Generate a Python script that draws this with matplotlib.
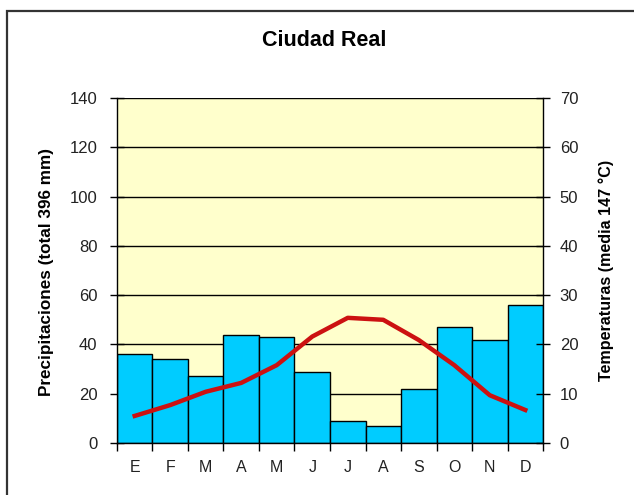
import matplotlib.pyplot as plt
from matplotlib.patches import Rectangle

# Monthly climate data for Ciudad Real
months = ['E', 'F', 'M', 'A', 'M', 'J', 'J', 'A', 'S', 'O', 'N', 'D']
precip_mm = [36, 34, 27, 44, 43, 29, 9, 7, 22, 47, 42, 56]
temp_c = [5.5, 7.7, 10.4, 12.2, 15.8, 21.6, 25.4, 25.0, 20.9, 15.8, 9.7, 6.7]

plt.rcParams['font.family'] = ['Liberation Sans', 'DejaVu Sans']
tick_color = '#222222'

fig = plt.figure(figsize=(6.34, 4.95), dpi=100)
ax = fig.add_axes([0.1845, 0.105, 0.672, 0.697])
ax.set_facecolor('#FFFFCC')

# outer frame of the chart (cut off on the right and bottom)
fig.patches.append(Rectangle((7 / 634, -0.05), 1.1, 1 - 11 / 495 + 0.05,
                             transform=fig.transFigure, fill=False,
                             edgecolor='#333333', linewidth=1.6, zorder=0))

x = list(range(len(months)))
ax.set_axisbelow(True)
ax.yaxis.grid(True, color='black', linewidth=1)
ax.bar(x, precip_mm, width=1.0, color='#00CCFF', edgecolor='black',
       linewidth=1, zorder=2)
ax.set_xlim(-0.5, len(months) - 0.5)
ax.set_ylim(0, 140)
ax.set_yticks(range(0, 141, 20))
ax.set_xticks([i - 0.5 for i in range(len(months) + 1)])
ax.set_xticklabels([])
ax.set_xticks(x, minor=True)
ax.set_xticklabels(months, minor=True)
ax.tick_params(axis='x', which='major', direction='out', length=6, width=1)
ax.tick_params(axis='x', which='minor', length=0, pad=12, labelsize=11.5,
               labelcolor=tick_color)
ax.tick_params(axis='y', direction='inout', length=10, width=1,
               labelsize=12, pad=9, labelcolor=tick_color)
for side in ['top', 'right']:
    ax.spines[side].set_visible(False)
ax.spines['left'].set_linewidth(1)
ax.spines['bottom'].set_linewidth(1)

ax2 = ax.twinx()
ax2.plot(x, temp_c, color='#CC1111', linewidth=3.2, zorder=3)
ax2.set_ylim(0, 70)
ax2.set_yticks(range(0, 71, 10))
ax2.tick_params(axis='y', direction='inout', length=10, width=1,
                labelsize=12, pad=7, labelcolor=tick_color)
for side in ['top', 'left', 'bottom']:
    ax2.spines[side].set_visible(False)
ax2.spines['right'].set_linewidth(1)

# axis titles placed like the original
fig.text(47 / 634, 1 - 272 / 495, 'Precipitaciones (total 396 mm)',
         rotation=90, ha='center', va='center', fontsize=12.3,
         fontweight='bold')
fig.text(606 / 634, 1 - 270 / 495, 'Temperaturas (media 147 °C)',
         rotation=90, ha='center', va='center', fontsize=11.6,
         fontweight='bold')

fig.text(324 / 634, 1 - 40 / 495, 'Ciudad Real',
         ha='center', va='center', fontsize=15.5, fontweight='bold')

fig.savefig('out.png', dpi=100, facecolor='white')
